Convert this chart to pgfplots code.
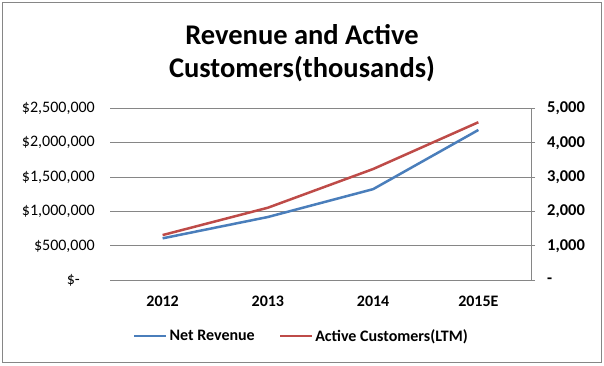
\documentclass[border=0pt]{standalone}
\usepackage{fontspec}
\setmainfont{Carlito}
\usepackage{pgfplots}
\pgfplotsset{compat=1.18}
\definecolor{exblue}{RGB}{74,126,187}
\definecolor{exred}{RGB}{190,75,72}
\definecolor{gridgray}{RGB}{134,134,134}

\begin{document}
\begin{tikzpicture}[x=1pt,y=1pt]
\useasboundingbox (0,0) rectangle (604,365);
\draw[gridgray, line width=1pt] (2.5,3) rectangle (601.5,362);
\node[anchor=base, inner sep=0pt, font=\fontsize{28.5}{32}\selectfont\bfseries] at (302,320) {Revenue and Active};
\node[anchor=base, inner sep=0pt, font=\fontsize{28.5}{32}\selectfont\bfseries] at (302,288) {Customers(thousands)};

\begin{axis}[
  at={(110pt,84.7pt)}, anchor=south west, scale only axis,
  width=421pt, height=172pt,
  xmin=-0.5, xmax=3.5, ymin=0, ymax=2500000,
  scaled y ticks=false,
  xtick={0,1,2,3}, xticklabels={2012,2013,2014,2015E},
  ytick={0,500000,1000000,1500000,2000000,2500000},
  yticklabels={{\$-\hspace*{15pt}},{\$500,000},{\$1,000,000},{\$1,500,000},{\$2,000,000},{\$2,500,000}},
  axis x line*=bottom, axis y line*=left,
  x axis line style={gridgray, line width=1pt},
  y axis line style={draw=none},
  major tick length=0pt,
  ymajorgrids, grid style={gridgray, line width=1pt},
  xticklabel style={anchor=north, inner sep=0pt, yshift=-16pt, font=\fontsize{16}{18}\selectfont\bfseries},
  yticklabel style={anchor=east, inner sep=0pt, xshift=-15pt, font=\fontsize{16}{18}\selectfont},
  clip=false,
]
\addplot[exblue, line width=2.5pt] coordinates {(0,610000) (1,920000) (2,1325000) (3,2185000)};
\end{axis}

\begin{axis}[
  at={(110pt,84.7pt)}, anchor=south west, scale only axis,
  width=421pt, height=172pt,
  xmin=-0.5, xmax=3.5, ymin=0, ymax=5000,
  axis x line=none, axis y line*=right,
  ytick={0,1000,2000,3000,4000,5000},
  yticklabels={-,{1,000},{2,000},{3,000},{4,000},{5,000}},
  y axis line style={gridgray, line width=1pt},
  ytick style={gridgray, line width=1pt},
  tick align=outside, major tick length=4pt,
  yticklabel style={anchor=west, inner sep=0pt, xshift=12pt, font=\fontsize{16.5}{18}\selectfont\bfseries},
  legend style={at={(0.0546,-0.324)}, anchor=west, draw=none, fill=none,
    inner sep=0pt, font=\fontsize{16}{18}\selectfont\bfseries,
    /tikz/every even column/.append style={column sep=22pt}},
  legend columns=2, legend cell align=left,
  legend image code/.code={\draw[#1] (0pt,0pt) -- (32pt,0pt);},
  clip=false,
]
\addlegendimage{exblue, line width=2.5pt}
\addlegendentry{Net Revenue}
\addplot[exred, line width=2.5pt] coordinates {(0,1315) (1,2110) (2,3235) (3,4595)};
\addlegendentry{Active Customers(LTM)}
\end{axis}
\end{tikzpicture}
\end{document}
